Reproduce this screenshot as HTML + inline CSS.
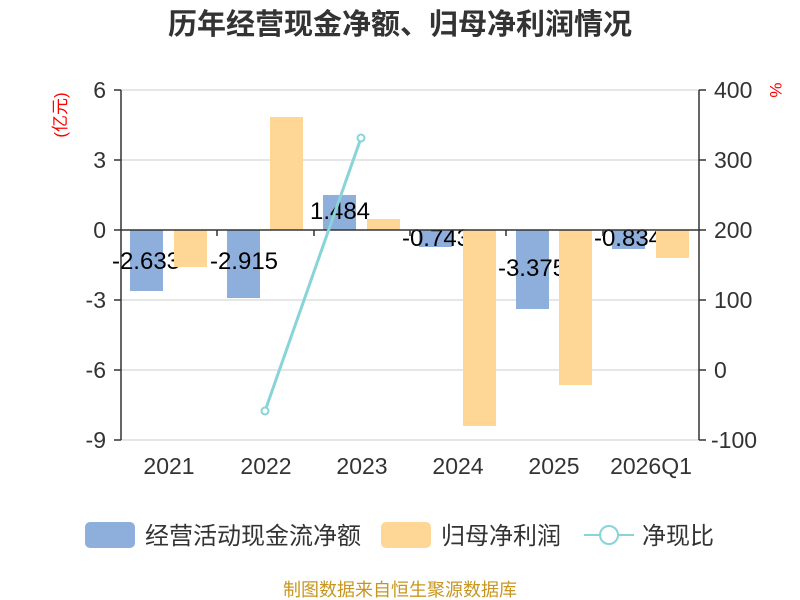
<!DOCTYPE html>
<html><head><meta charset="utf-8"><style>body{margin:0;background:#fff}svg{display:block}text{font-family:"Liberation Sans","Noto Sans CJK SC",sans-serif}</style></head><body>
<svg width="800" height="600" xmlns="http://www.w3.org/2000/svg">
<text x="400" y="34" text-anchor="middle" font-size="29" font-weight="bold" fill="#333">历年经营现金净额、归母净利润情况</text>
<g stroke="#ccc" stroke-width="1">
<line x1="121" y1="90" x2="699" y2="90"/><line x1="121" y1="160" x2="699" y2="160"/><line x1="121" y1="300" x2="699" y2="300"/><line x1="121" y1="370" x2="699" y2="370"/><line x1="121" y1="440" x2="699" y2="440"/>
</g>
<g font-size="23" fill="#333" text-anchor="end">
<text x="106" y="98">6</text><text x="106" y="168">3</text><text x="106" y="238">0</text><text x="106" y="308">-3</text><text x="106" y="378">-6</text><text x="106" y="448">-9</text>
</g>
<g font-size="23" fill="#333" text-anchor="start">
<text x="714" y="98">400</text><text x="714" y="168">300</text><text x="714" y="238">200</text><text x="714" y="308">100</text><text x="714" y="378">0</text><text x="711" y="448">-100</text>
</g>
<text transform="translate(66,115) rotate(-90)" text-anchor="middle" font-size="17" fill="#f00">(亿元)</text>
<text transform="translate(770,90) rotate(90)" text-anchor="middle" font-size="17" fill="#f00">%</text>
<g fill="#8eaedb">
<rect x="130" y="230" width="33" height="61"/>
<rect x="227" y="230" width="33" height="68"/>
<rect x="323" y="195" width="33" height="35"/>
<rect x="419" y="230" width="33" height="17"/>
<rect x="516" y="230" width="33" height="79"/>
<rect x="612" y="230" width="33" height="19"/>
</g>
<g font-size="24" fill="#000" text-anchor="middle">
<text x="146" y="269">-2.633</text><text x="244" y="269">-2.915</text><text x="340" y="219">1.484</text><text x="436" y="246">-0.743</text><text x="532" y="276">-3.375</text><text x="628" y="246">-0.834</text>
</g>
<g fill="#fed797">
<rect x="174" y="230" width="33" height="37"/>
<rect x="270" y="117" width="33" height="113"/>
<rect x="367" y="219" width="33" height="11"/>
<rect x="463" y="230" width="33" height="196"/>
<rect x="559" y="230" width="33" height="155"/>
<rect x="656" y="230" width="33" height="28"/>
</g>
<g stroke="#333" stroke-width="1.5">
<line x1="121" y1="90" x2="121" y2="440"/><line x1="699" y1="90" x2="699" y2="440"/>
<line x1="121" y1="230" x2="699" y2="230"/>
<line x1="114" y1="90" x2="121" y2="90"/><line x1="114" y1="160" x2="121" y2="160"/><line x1="114" y1="230" x2="121" y2="230"/><line x1="114" y1="300" x2="121" y2="300"/><line x1="114" y1="370" x2="121" y2="370"/><line x1="114" y1="440" x2="121" y2="440"/>
<line x1="699" y1="90" x2="706" y2="90"/><line x1="699" y1="160" x2="706" y2="160"/><line x1="699" y1="230" x2="706" y2="230"/><line x1="699" y1="300" x2="706" y2="300"/><line x1="699" y1="370" x2="706" y2="370"/><line x1="699" y1="440" x2="706" y2="440"/>
<line x1="217" y1="230" x2="217" y2="236"/><line x1="314" y1="230" x2="314" y2="236"/><line x1="410" y1="230" x2="410" y2="236"/><line x1="506" y1="230" x2="506" y2="236"/><line x1="603" y1="230" x2="603" y2="236"/>
</g>
<line x1="265" y1="411" x2="361" y2="138" stroke="#88d4d8" stroke-width="3"/>
<circle cx="265" cy="411" r="3.5" fill="#fff" stroke="#88d4d8" stroke-width="2"/>
<circle cx="361" cy="138" r="3.5" fill="#fff" stroke="#88d4d8" stroke-width="2"/>
<g font-size="23" fill="#333" text-anchor="middle">
<text x="169" y="474">2021</text><text x="266" y="474">2022</text><text x="362" y="474">2023</text><text x="458" y="474">2024</text><text x="554" y="474">2025</text><text x="651" y="474">2026Q1</text>
</g>
<rect x="85" y="522" width="50" height="26" rx="5" fill="#8eaedb"/>
<text x="145" y="544" font-size="24" fill="#333">经营活动现金流净额</text>
<rect x="381" y="522" width="50" height="26" rx="5" fill="#fed797"/>
<text x="441" y="544" font-size="24" fill="#333">归母净利润</text>
<line x1="584" y1="535" x2="634" y2="535" stroke="#88d4d8" stroke-width="2"/>
<circle cx="609" cy="535" r="9" fill="#fff" stroke="#88d4d8" stroke-width="2"/>
<text x="642" y="544" font-size="24" fill="#333">净现比</text>
<text x="400" y="596" text-anchor="middle" font-size="18" fill="#c8961e">制图数据来自恒生聚源数据库</text>
</svg>
</body></html>
